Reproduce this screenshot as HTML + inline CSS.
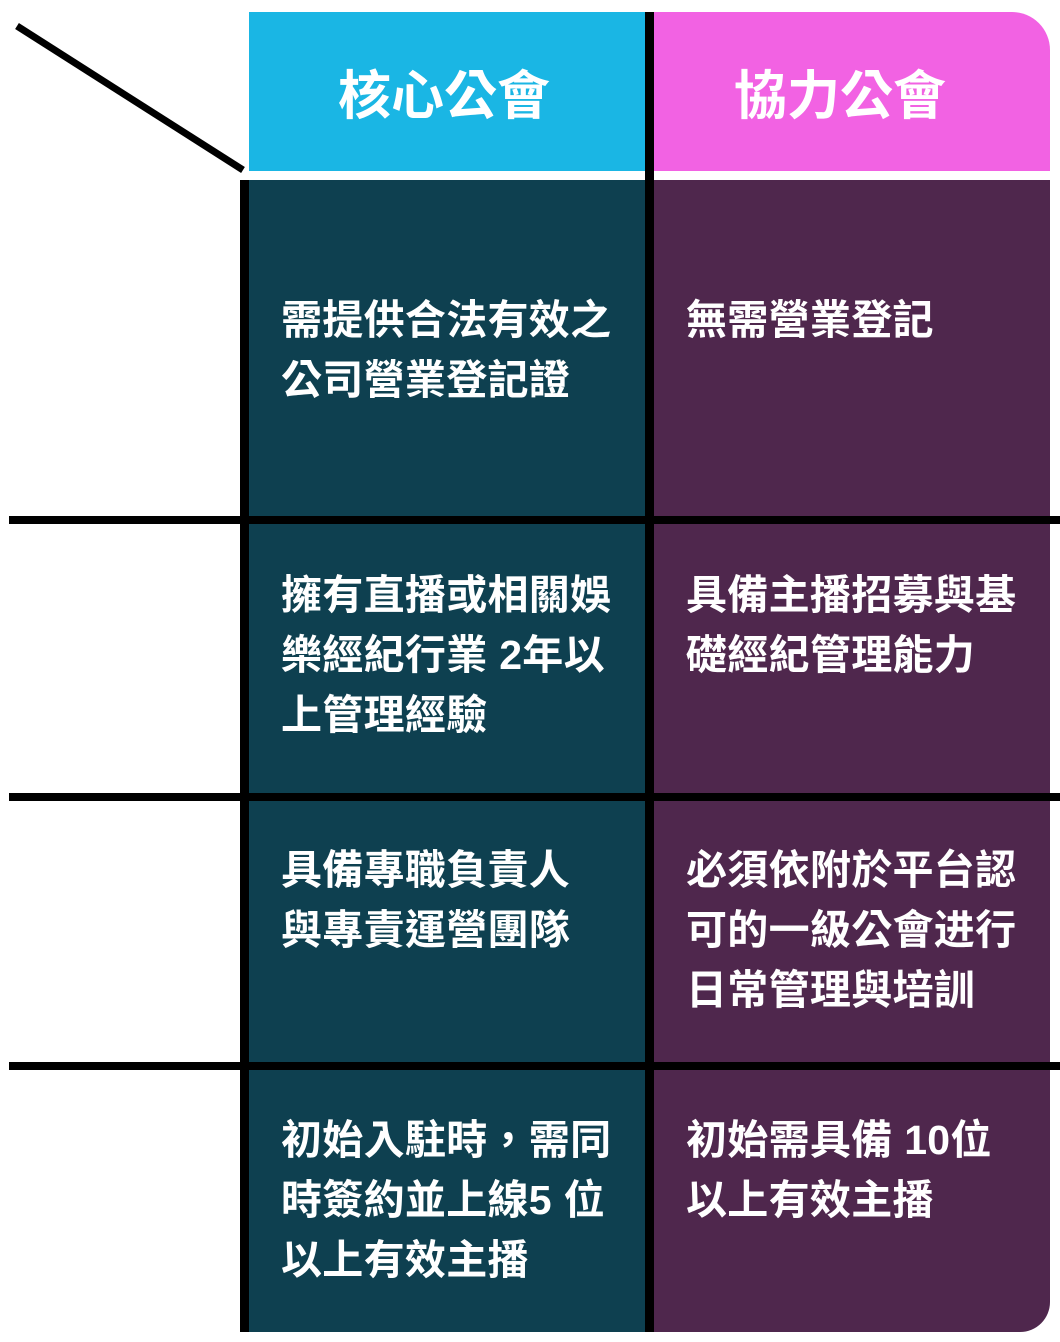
<!DOCTYPE html>
<html><head><meta charset="utf-8"><style>
body{margin:0;width:1060px;height:1342px;background:#fff;position:relative;overflow:hidden;font-family:"Liberation Sans","Noto Sans CJK TC",sans-serif;}
div{position:absolute;}
.t{color:#fff;font-size:41px;font-weight:bold;line-height:60px;white-space:nowrap;letter-spacing:0.3px}
.h{color:#fff;font-size:53px;font-weight:bold;line-height:60px;text-align:center;width:396px;top:67px}
.b{background:#000}
</style></head><body>
<div style="left:249px;top:12px;width:396px;height:159px;background:#1ab6e4"></div>
<div style="left:654px;top:12px;width:396px;height:159px;background:#f262e3;border-top-right-radius:38px"></div>
<div style="left:249px;top:180px;width:396px;height:1152px;background:#0e4050"></div>
<div style="left:654px;top:180px;width:396px;height:1152px;background:#4f274d;border-bottom-right-radius:30px"></div>
<div class="b" style="left:240px;top:180px;width:9px;height:1152px"></div>
<div class="b" style="left:645px;top:12px;width:9px;height:1320px"></div>
<div class="b" style="left:9px;top:516px;width:1051px;height:8px"></div>
<div class="b" style="left:9px;top:793px;width:1051px;height:8px"></div>
<div class="b" style="left:9px;top:1062px;width:1051px;height:8px"></div>
<svg style="position:absolute;left:0;top:0" width="260" height="190"><line x1="17" y1="26" x2="243" y2="170" stroke="#000" stroke-width="7"/></svg>
<div class="h" style="left:246px">核心公會</div>
<div class="h" style="left:642px">協力公會</div>
<div class="t" style="left:281px;top:290px">需提供合法有效之<br>公司營業登記證</div>
<div class="t" style="left:686px;top:290px">無需營業登記</div>
<div class="t" style="left:281px;top:565px">擁有直播或相關娛<br>樂經紀行業 2年以<br>上管理經驗</div>
<div class="t" style="left:686px;top:565px">具備主播招募與基<br>礎經紀管理能力</div>
<div class="t" style="left:281px;top:840px">具備專職負責人<br>與專責運營團隊</div>
<div class="t" style="left:686px;top:840px">必須依附於平台認<br>可的一級公會进行<br>日常管理與培訓</div>
<div class="t" style="left:281px;top:1110px">初始入駐時，需同<br>時簽約並上線5 位<br>以上有效主播</div>
<div class="t" style="left:686px;top:1110px">初始需具備 10位<br>以上有效主播</div>
</body></html>
